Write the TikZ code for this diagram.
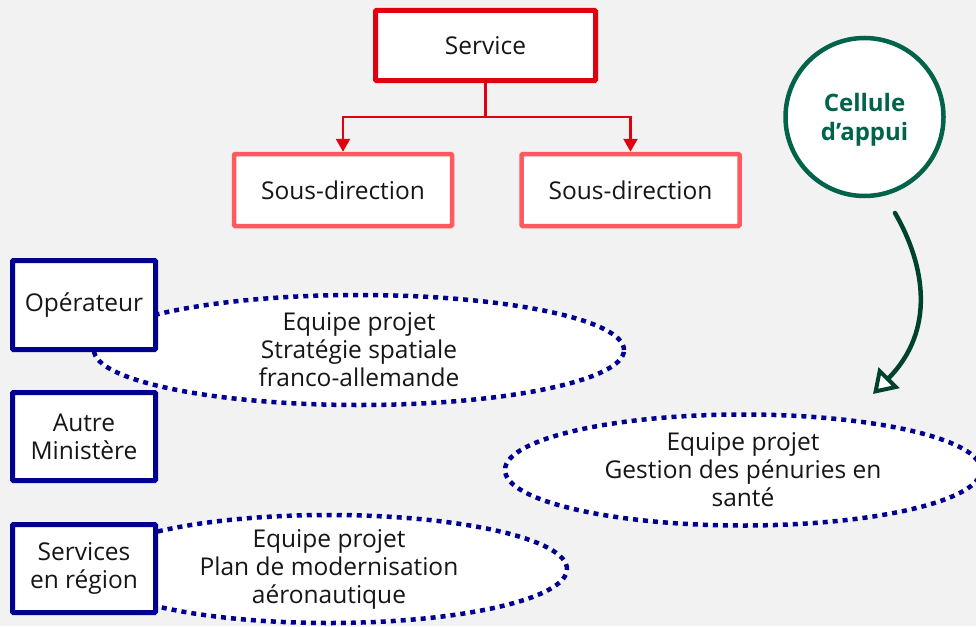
\documentclass[tikz,border=0pt]{standalone}
\usepackage{fontspec}
\setmainfont{Open Sans}
\usetikzlibrary{arrows.meta,shapes.geometric}
\definecolor{bg}{HTML}{F2F2F2}
\definecolor{frred}{HTML}{E1000F}
\definecolor{sdred}{HTML}{FF5A60}
\definecolor{navy}{HTML}{000091}
\definecolor{cgreen}{HTML}{00634A}
\definecolor{agreen}{HTML}{00432C}
\definecolor{ink}{HTML}{161616}
\begin{document}
\begin{tikzpicture}[x=1pt,y=-1pt,
  every node/.style={font=\fontsize{24.5}{28}\selectfont, text=ink, align=center, inner sep=0pt},
  servicebox/.style={draw=frred, line width=5pt, fill=white, rounded corners=1pt, minimum width=220pt, minimum height=70pt},
  sdbox/.style={draw=sdred, line width=4.5pt, fill=white, rounded corners=1pt, minimum width=218pt, minimum height=72pt},
  navybox/.style={draw=navy, line width=5pt, fill=white, rounded corners=1pt, minimum width=143pt, minimum height=88pt},
  projet/.style={ellipse, draw=navy, fill=white, line width=4.5pt, dash pattern=on 5pt off 5pt, inner sep=-14pt},
  redline/.style={draw=frred, line width=2.5pt, -{Triangle[length=13pt,width=14pt]}},
  cellcircle/.style={circle, draw=cgreen, fill=white, line width=4.5pt, minimum size=158pt},
  celltext/.style={text=cgreen, font=\fontsize{24}{29}\selectfont\bfseries},
  greenarrow/.style={draw=agreen, line width=4.5pt, line cap=round, -{Triangle[fill=white, length=23pt, width=29pt, line width=4pt]}}
]
\useasboundingbox (0,0) rectangle (976,626);
\fill[bg] (0,0) rectangle (976,626);

% project ellipses (behind boxes)
\node[projet, minimum width=530pt, minimum height=110pt] (ep1) at (359,350) {Equipe projet\\Stratégie spatiale\\franco-allemande};
\node[projet, minimum width=476pt, minimum height=111pt] (ep2) at (743,470) {Equipe projet\\Gestion des pénuries en\\santé};
\node[projet, minimum width=476pt, minimum height=108pt] (ep3) at (329,569) {Equipe projet\\Plan de modernisation\\aéronautique};

% hierarchy
\node[servicebox] (service) at (485.5,45.5) {Service};
\node[sdbox] (sd1) at (343,190) {Sous-direction};
\node[sdbox] (sd2) at (630.5,190) {Sous-direction};
\coordinate (fork) at (485.5,117);
\draw[draw=frred, line width=2.5pt] (service.south) -- (fork);
\draw[redline] (fork) -| (sd1.north);
\draw[redline] (fork) -| (sd2.north);

% left boxes
\node[navybox, minimum height=89pt] (op) at (84,305) {Opérateur};
\node[navybox] (am) at (84,436.5) {Autre\\Ministère};
\node[navybox] (sr) at (84,568.5) {Services\\en région};

% cellule d'appui
\node[cellcircle] (cell) at (864.5,117) {};
\node[celltext] (celltxt) at ([yshift=-3pt]cell.center) {Cellule\\d’appui};
\coordinate (arrowstart) at (895,213);
\coordinate (arrowend) at (873,394);
\draw[greenarrow] (arrowstart) .. controls (925,265) and (936,330) .. (arrowend);
\end{tikzpicture}
\end{document}
